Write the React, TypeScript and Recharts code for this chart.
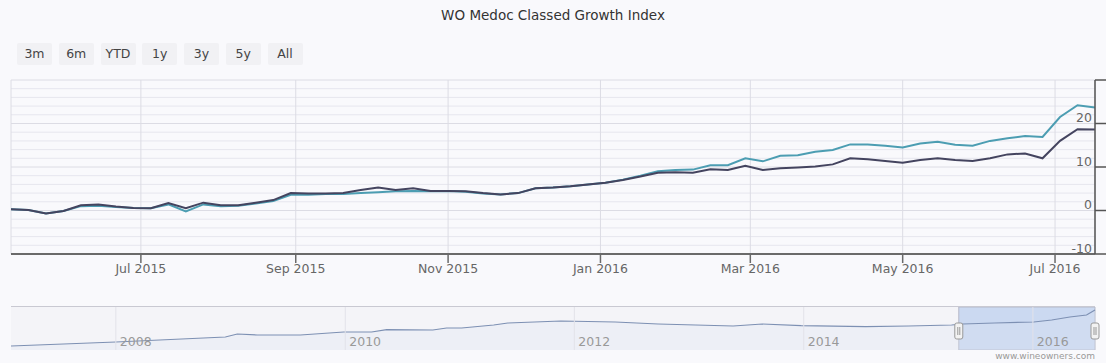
import React from 'react';
import {
  LineChart,
  Line,
  XAxis,
  YAxis,
  CartesianGrid,
  ComposedChart,
  Area,
  ReferenceArea,
  ReferenceDot,
  ReferenceLine,
} from 'recharts';

const FONT = '"DejaVu Sans", Verdana, sans-serif';

// ---- main series (weekly) ----
const dates = [
  '2015-05-10', '2015-05-17', '2015-05-24', '2015-05-31', '2015-06-07', '2015-06-14', '2015-06-21', '2015-06-28',
  '2015-07-05', '2015-07-12', '2015-07-19', '2015-07-26', '2015-08-02', '2015-08-09', '2015-08-16', '2015-08-23',
  '2015-08-30', '2015-09-06', '2015-09-13', '2015-09-20', '2015-09-27', '2015-10-04', '2015-10-11', '2015-10-18',
  '2015-10-25', '2015-11-01', '2015-11-08', '2015-11-15', '2015-11-22', '2015-11-29', '2015-12-06', '2015-12-13',
  '2015-12-20', '2015-12-27', '2016-01-03', '2016-01-10', '2016-01-17', '2016-01-24', '2016-01-31', '2016-02-07',
  '2016-02-14', '2016-02-21', '2016-02-28', '2016-03-06', '2016-03-13', '2016-03-20', '2016-03-27', '2016-04-03',
  '2016-04-10', '2016-04-17', '2016-04-24', '2016-05-01', '2016-05-08', '2016-05-15', '2016-05-22', '2016-05-29',
  '2016-06-05', '2016-06-12', '2016-06-19', '2016-06-26', '2016-07-03', '2016-07-10', '2016-07-17',
];

const tealSeries = [
  0.3, 0.1, -0.7, -0.1, 1.0, 1.1, 0.8, 0.6, 0.5, 1.4, -0.2, 1.4, 1.0, 1.1, 1.6, 2.2,
  3.6, 3.6, 3.8, 3.8, 4.0, 4.2, 4.4, 4.5, 4.4, 4.5, 4.3, 3.9, 3.7, 4.0, 5.1, 5.3,
  5.6, 6.0, 6.4, 7.1, 8.0, 9.0, 9.3, 9.4, 10.4, 10.4, 12.0, 11.3, 12.6, 12.7, 13.5, 13.9,
  15.2, 15.2, 14.9, 14.5, 15.4, 15.8, 15.1, 14.9, 16.0, 16.6, 17.1, 16.9, 21.5, 24.2, 23.7,
];

const darkSeries = [
  0.3, 0.1, -0.7, -0.1, 1.2, 1.4, 0.9, 0.6, 0.5, 1.7, 0.5, 1.8, 1.2, 1.2, 1.8, 2.4,
  4.0, 3.9, 3.9, 4.0, 4.7, 5.3, 4.7, 5.1, 4.5, 4.5, 4.4, 4.0, 3.7, 4.0, 5.1, 5.3,
  5.6, 6.0, 6.4, 7.0, 7.8, 8.7, 8.8, 8.7, 9.5, 9.3, 10.3, 9.3, 9.7, 9.9, 10.1, 10.6,
  12.0, 11.8, 11.4, 11.0, 11.6, 12.0, 11.6, 11.4, 12.0, 12.9, 13.1, 12.0, 16.0, 18.7, 18.6,
];

const xTickDates = ['2015-07-01', '2015-09-01', '2015-11-01', '2016-01-01', '2016-03-01', '2016-05-01', '2016-07-01'];
const xTickLabels = ['Jul 2015', 'Sep 2015', 'Nov 2015', 'Jan 2016', 'Mar 2016', 'May 2016', 'Jul 2016'];

const yTicks = [-10, 0, 10, 20, 30];
const yTickLabels = ['-10', '0', '10', '20', ''];
const yMinorGrid = [-8, -6, -4, -2, 2, 4, 6, 8, 12, 14, 16, 18, 22, 24, 26, 28];

// ---- navigator (long history) ----
const navDates = [
  '2007-02-01', '2008-01-01', '2008-12-15', '2009-01-22', '2009-03-27', '2009-08-11', '2009-12-27',
  '2010-03-26', '2010-05-13', '2010-10-07', '2010-11-20', '2011-01-07', '2011-04-19', '2011-06-03',
  '2011-11-19', '2012-05-10', '2012-09-24', '2013-05-21', '2013-08-22', '2013-12-24', '2014-07-17',
  '2014-12-01', '2015-04-17', '2015-05-22', '2015-09-01', '2016-01-04', '2016-03-01', '2016-04-28',
  '2016-06-20', '2016-07-17',
];
const navValues = [
  4, 8, 13, 16, 15, 15, 18,
  18, 20.4, 20, 22, 22, 25, 27,
  29, 28, 26, 24, 26, 24.4, 23.3,
  24, 25, 26, 27, 28, 30, 33,
  35, 40,
];
const navTickDates = ['2008-01-01', '2010-01-01', '2012-01-01', '2014-01-01', '2016-01-01'];
const navTickLabels = ['2008', '2010', '2012', '2014', '2016'];

const rangeButtons = ['3m', '6m', 'YTD', '1y', '3y', '5y', 'All'];

const ts = (d: string) => new Date(d + 'T00:00:00Z').getTime();

const mainData = dates.map((d, i) => ({ t: ts(d), teal: tealSeries[i], dark: darkSeries[i] }));
const navData = navDates.map((d, i) => ({ t: ts(d), v: navValues[i] }));
const xTicks = xTickDates.map(ts);
const navTicks = navTickDates.map(ts);
const mainStart = ts(dates[0]);
const mainEnd = ts(dates[dates.length - 1]);
const navStart = ts(navDates[0]);
const navEnd = ts(navDates[navDates.length - 1]);

const YTick = (props: any) => {
  const { x, y, payload } = props;
  const i = yTicks.indexOf(payload.value);
  const label = i >= 0 ? yTickLabels[i] : '';
  if (!label) return <g />;
  return (
    <text x={x - 14} y={y - 6} textAnchor="end" dominantBaseline="central" fill="#666" fontSize={12.5} fontFamily={FONT}>
      {label}
    </text>
  );
};

const Handle = (props: any) => {
  const { cx, cy } = props;
  if (cx == null || cy == null) return <g />;
  return (
    <g>
      <rect x={cx - 4} y={cy - 8} width={8} height={16} rx={2} fill="#f2f2f2" stroke="#999" strokeWidth={1} />
      <line x1={cx - 1} x2={cx - 1} y1={cy - 4} y2={cy + 4} stroke="#999" />
      <line x1={cx + 1} x2={cx + 1} y1={cy - 4} y2={cy + 4} stroke="#999" />
    </g>
  );
};

export default function App() {
  return (
    <div
      style={{
        position: 'absolute',
        left: 0,
        top: 0,
        width: 1106,
        height: 363,
        background: '#f9f9fc',
        fontFamily: FONT,
        overflow: 'hidden',
      }}
    >
      <div
        style={{
          position: 'absolute',
          top: 6,
          left: 0,
          width: 1106,
          textAlign: 'center',
          fontSize: 13.5,
          lineHeight: '18px',
          color: '#333',
        }}
      >
        WO Medoc Classed Growth Index
      </div>

      {rangeButtons.map((b, i) => (
        <div
          key={b}
          style={{
            position: 'absolute',
            left: 17 + i * 41.75,
            top: 43,
            width: 35,
            height: 22,
            lineHeight: '22px',
            textAlign: 'center',
            background: '#f1f1f4',
            borderRadius: 2,
            fontSize: 12.5,
            color: '#444',
          }}
        >
          {b}
        </div>
      ))}

      <div style={{ position: 'absolute', left: 0, top: 0 }}>
        <LineChart width={1106} height={290} data={mainData} margin={{ top: 80, right: 0, left: 11, bottom: 0 }}>
          <CartesianGrid horizontal={true} vertical={false} horizontalValues={yMinorGrid} stroke="#e6e6ee" strokeWidth={1} />
          <CartesianGrid horizontal={true} vertical={true} stroke="#dcdce4" strokeWidth={1} />
          <XAxis
            dataKey="t"
            type="number"
            scale="time"
            domain={[mainStart, mainEnd]}
            ticks={xTicks}
            interval={0}
            tickFormatter={(v: number) => xTickLabels[xTicks.indexOf(v)] || ''}
            height={36}
            tickSize={9}
            tickMargin={1}
            axisLine={{ stroke: '#6a6a6a', strokeWidth: 2 }}
            tickLine={{ stroke: '#6a6a6a', strokeWidth: 1.5 }}
            tick={{ fill: '#666', fontSize: 12.5, fontFamily: FONT }}
            allowDataOverflow
          />
          <YAxis
            orientation="right"
            type="number"
            domain={[-10, 30]}
            ticks={yTicks}
            interval={0}
            width={11}
            tickSize={11}
            tickMargin={0}
            axisLine={{ stroke: '#555', strokeWidth: 1.5 }}
            tickLine={{ stroke: '#555', strokeWidth: 1.5 }}
            tick={<YTick />}
          />
          <Line type="linear" dataKey="teal" stroke="#4c9db2" strokeWidth={2} dot={false} isAnimationActive={false} />
          <Line type="linear" dataKey="dark" stroke="#44445f" strokeWidth={2} dot={false} isAnimationActive={false} />
        </LineChart>
      </div>

      <div style={{ position: 'absolute', left: 0, top: 300 }}>
        <ComposedChart width={1106} height={50} data={navData} margin={{ top: 7, right: 11, left: 11, bottom: 0 }}>
          <XAxis dataKey="t" type="number" scale="time" domain={[navStart, navEnd]} hide />
          <YAxis hide domain={[0, 43]} type="number" />
          <ReferenceArea x1={navStart} x2={navEnd} y1={0} y2={43} fill="#f4f4f8" fillOpacity={1} stroke="none" />
          {navTicks.map((t, i) => (
            <ReferenceLine
              key={t}
              x={t}
              stroke="#e2e2e9"
              label={{
                value: navTickLabels[i],
                position: 'insideBottomLeft',
                offset: 4,
                fill: '#999',
                fontSize: 12.5,
                fontFamily: FONT,
              }}
            />
          ))}
          <ReferenceArea
            x1={mainStart}
            x2={mainEnd}
            y1={0}
            y2={43}
            fill="#c3d4f0"
            fillOpacity={0.85}
            stroke="#b5b9c8"
            strokeWidth={1}
          />
          <Area
            type="linear"
            dataKey="v"
            stroke="#7d90b3"
            strokeWidth={1.2}
            fill="#dfe5f2"
            fillOpacity={0.3}
            isAnimationActive={false}
          />
          <ReferenceDot x={mainStart} y={19} r={0} shape={<Handle />} />
          <ReferenceDot x={mainEnd} y={19} r={0} shape={<Handle />} />
        </ComposedChart>
      </div>

      <div style={{ position: 'absolute', left: 11, top: 306, width: 1084, height: 1, background: '#c9c9d2' }} />

      <div
        style={{
          position: 'absolute',
          right: 11,
          top: 351,
          fontSize: 9,
          color: '#999',
        }}
      >
        www.wineowners.com
      </div>
    </div>
  );
}
